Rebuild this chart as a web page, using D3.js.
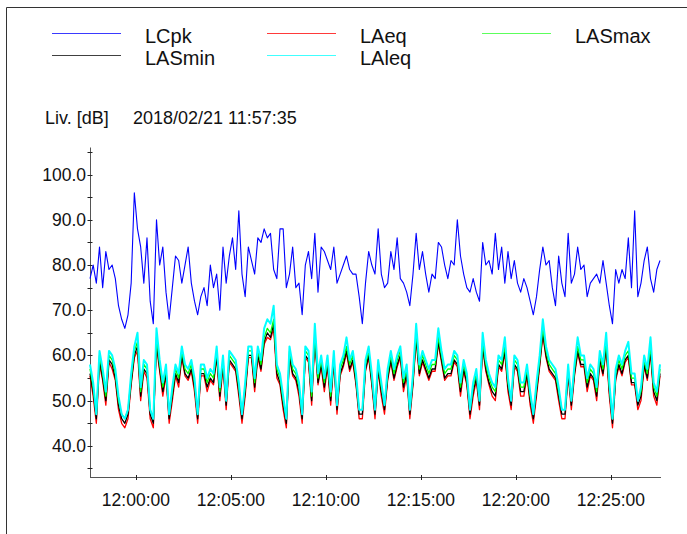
<!DOCTYPE html>
<html><head><meta charset="utf-8">
<script src="https://cdn.jsdelivr.net/npm/d3@7"></script>
<style>
body{margin:0;background:#fff;}
svg{display:block;font-family:"Liberation Sans",Arial,sans-serif;}
</style>
</head><body><svg id="c" width="687" height="534"></svg>
<script>
// ---- data ----
const startTime = "2018-02-21T11:57:35";
const stepSeconds = 10;
const headerLabel = "Liv. [dB]";
const headerDate = "2018/02/21 11:57:35";
const seriesNames = ["LCpk", "LAeq", "LASmax", "LASmin", "LAleq"];

const LCpk = [77,80,76,84,75,83,79,80,77,71,68,66,69,76,96,88,84,76,86,72,67,90,80,84,74,68,75,82,81,76,80,
84,76,72,69,73,75,71,80,75,78,70,84,76,82,86,79,92,78,73,84,81,78,86,85,88,86,87,79,77,88,
88,75,78,84,75,76,69,80,83,77,87,74,84,83,81,79,84,76,78,80,82,79,78,78,73,67,76,83,80,78,
88,78,75,76,83,79,86,77,76,74,71,78,87,79,83,78,74,78,77,85,84,80,77,81,80,90,82,78,75,74,
77,74,72,85,80,81,78,87,79,84,76,83,77,81,76,74,77,75,72,69,73,79,84,80,81,75,71,82,76,73,87,
76,78,84,79,80,73,76,77,78,76,81,76,71,67,79,76,79,77,86,75,92,73,76,81,84,77,74,79,81];

const LAeq = [55.5,51,45,58,54.5,49,58.5,57,54.5,48,45,44,46,53.5,59.5,61,50,56.5,55,46,44,62,56.5,51,55.5,45,50,55.5,53,59.5,55.5,
54.5,56.5,52,45,55.5,55.5,52,54.5,53.5,59.5,50,57.5,48,58.5,57.5,56.5,51,45,51,59.5,59.5,52,59.5,56.5,62.5,64,63.5,66,55,53.5,
48,44,59.5,55.5,54.5,51,45,59.5,58.5,49,63.5,53.5,57.5,52,57.5,49,58.5,47,55.5,57.5,60.5,56.5,58.5,53.5,46,46,56.5,59.5,53.5,46,
56.5,51,47,54.5,58.5,54.5,57.5,59.5,52,55.5,46,53.5,63.5,55.5,58.5,56.5,54.5,56.5,56.5,62.5,58.5,54.5,55.5,55.5,58.5,57.5,51,56.5,53.5,46,
51,54.5,48,61.5,56.5,53.5,51,50,57.5,56.5,60.5,52,48,57.5,56.5,51,51,55.5,49,45,51,57.5,64.5,59.5,56.5,55.5,54.5,50,46,46,55.5,
48,55.5,60.5,57.5,57.5,52,55.5,54.5,50,58.5,55.5,61.5,51,44,54.5,57.5,55.5,58.5,59.5,53.5,53.5,48,50,57.5,54.5,60.5,51,49,55.5];

const LASmax = [57,53,47,60,56,51,60,59,56,50,47,46,48,55,61,63,52,58,57,48,46,64,58,53,57,47,52,57,55,61,57,
56,58,54,47,57,57,54,56,55,61,52,59,50,60,59,58,53,47,53,61,61,54,61,58,64,66,65,68,57,55,
50,46,61,57,56,53,47,61,60,51,65,55,59,54,59,51,60,49,57,59,62,58,60,55,48,48,58,61,55,48,
58,53,49,56,60,56,59,61,54,57,48,55,65,57,60,58,56,58,58,64,60,56,57,57,60,59,53,58,55,48,
53,56,50,63,58,55,53,52,59,58,62,54,50,59,58,53,53,57,51,47,53,59,66,61,58,57,56,52,48,48,57,
50,57,62,59,59,54,57,56,52,60,57,63,53,46,56,59,57,60,61,55,55,50,52,59,56,62,53,51,57];

const LASmin = [56,52,46,59,55,50,59,58,55,49,46,45,47,54,60,62,51,57,56,47,45,63,57,52,56,46,51,56,54,60,56,
55,57,53,46,56,56,53,55,54,60,51,58,49,59,58,57,52,46,52,60,60,53,60,57,63,65,64,67,56,54,
49,45,60,56,55,52,46,60,59,50,64,54,58,53,58,50,59,48,56,58,61,57,59,54,47,47,57,60,54,47,
57,52,48,55,59,55,58,60,53,56,47,54,64,56,59,57,55,57,57,63,59,55,56,56,59,58,52,57,54,47,
52,55,49,62,57,54,52,51,58,57,61,53,49,58,57,52,52,56,50,46,52,58,65,60,57,56,55,51,47,47,56,
49,56,61,58,58,53,56,55,51,59,56,62,52,45,55,58,56,59,60,54,54,49,51,58,55,61,52,50,56];

const LAleq = [58,54,47,61,57,52,61,60,57,51,47,46,48,56,62,65,53,59,58,48,46,66,59,54,58,47,53,58,56,62,58,
57,59,55,47,58,58,55,57,56,62,53,60,50,61,60,59,54,47,54,62,62,55,62,59,66,68,67,71,58,56,
51,46,62,58,57,54,47,62,61,52,67,56,60,55,60,52,61,49,58,60,64,59,61,56,48,48,59,62,56,48,
59,54,49,57,61,57,60,62,55,58,48,56,67,58,61,59,57,59,59,66,61,57,58,58,61,60,54,59,56,48,
54,57,50,65,59,56,54,53,60,59,64,55,50,60,59,54,54,58,52,47,54,60,68,62,59,58,57,53,48,48,58,
50,58,64,60,60,55,58,57,53,61,58,65,54,46,57,60,58,61,63,56,56,50,53,60,57,64,54,52,58];

const yTickValues = [35,40,45,50,55,60,65,70,75,80,85,90,95,100,105];
const yLabelValues = [40,50,60,70,80,90,100];
const xTickLabels = ["12:00:00","12:05:00","12:10:00","12:15:00","12:20:00","12:25:00"];

// ---- styles ----
const colors = {LCpk:"#0000ff", LAeq:"#ff0000", LASmax:"#00ff00", LASmin:"#000000", LAleq:"#00ffff"};
const widths = {LCpk:1.1, LAeq:1.3, LASmax:1.3, LASmin:1.3, LAleq:2};
const legendColors = {LCpk:"#3a3aff", LAeq:"#ff3a3a", LASmax:"#5cff5c", LASmin:"#404040", LAleq:"#40ffff"};

const svg = d3.select("#c");
const parse = d3.timeParse("%Y-%m-%dT%H:%M:%S");
const t0 = parse(startTime);
const t1 = d3.timeSecond.offset(t0, stepSeconds * (LCpk.length - 1));
const times = d3.range(LCpk.length).map(i => d3.timeSecond.offset(t0, i * stepSeconds));

const x = d3.scaleTime().domain([t0, t1]).range([90, 660]);
const y = d3.scaleLinear().domain([33, 106]).range([477.5, 147.5]);

// frame
svg.append("line").attr("x1",6.5).attr("x2",687).attr("y1",7.5).attr("y2",7.5).attr("stroke","#333");
svg.append("line").attr("x1",6.5).attr("x2",6.5).attr("y1",7.5).attr("y2",534).attr("stroke","#333");

// legend
const legendItems = [
  {name:"LCpk", col:0, row:0},{name:"LAeq", col:1, row:0},{name:"LASmax", col:2, row:0},
  {name:"LASmin", col:0, row:1},{name:"LAleq", col:1, row:1}
];
const colX = [52, 267, 482], rowY = [33.5, 55.5];
legendItems.forEach(d => {
  const lx = colX[d.col], ly = rowY[d.row];
  svg.append("line").attr("x1", lx).attr("x2", lx + 69).attr("y1", ly).attr("y2", ly)
    .attr("stroke", legendColors[d.name]).attr("stroke-width", 1);
  svg.append("text").attr("x", lx + 93).attr("y", ly + 9).attr("font-size", 20).attr("fill","#111").text(d.name);
});

// header
svg.append("text").attr("x",45).attr("y",124).attr("font-size",18).attr("fill","#111").text(headerLabel);
svg.append("text").attr("x",133).attr("y",124).attr("font-size",18).attr("fill","#111").text(headerDate);

// axes
const axisColor = "#555";
const yAxis = svg.append("g");
yAxis.append("line").attr("x1",90.5).attr("x2",90.5).attr("y1",y(106)).attr("y2",y(33)).attr("stroke",axisColor);
yAxis.selectAll(".yt").data(yTickValues).enter().append("line")
  .attr("x1",87.5).attr("x2",92.5).attr("y1",d=>Math.round(y(d))+0.5).attr("y2",d=>Math.round(y(d))+0.5).attr("stroke","#222");
yAxis.selectAll(".yl").data(yLabelValues).enter().append("text")
  .attr("x",86).attr("y",d=>y(d)+6).attr("text-anchor","end").attr("font-size",17.5).attr("fill","#111")
  .text(d=>d3.format(".1f")(d));

const xTimes = xTickLabels.map(s => parse("2018-02-21T" + s));
const xAxis = svg.append("g");
xAxis.append("line").attr("x1",90).attr("x2",661).attr("y1",477.5).attr("y2",477.5).attr("stroke",axisColor);
xAxis.selectAll(".xt").data(xTimes).enter().append("line")
  .attr("x1",d=>Math.round(x(d))+0.5).attr("x2",d=>Math.round(x(d))+0.5).attr("y1",475).attr("y2",480).attr("stroke","#222");
xAxis.selectAll(".xl").data(xTimes).enter().append("text")
  .attr("x",d=>x(d)).attr("y",506).attr("text-anchor","middle").attr("font-size",17.5).attr("fill","#111")
  .text(d=>d3.timeFormat("%H:%M:%S")(d));

// series
const line = d3.line().x((d,i)=>x(times[i])).y(d=>y(d));
const drawOrder = [["LCpk",LCpk],["LAeq",LAeq],["LASmin",LASmin],["LASmax",LASmax],["LAleq",LAleq]];
drawOrder.forEach(([name, vals]) => {
  svg.append("path").datum(vals).attr("d", line).attr("fill","none")
    .attr("stroke", colors[name]).attr("stroke-width", widths[name]).attr("stroke-linejoin","round");
});
</script>
</body></html>
